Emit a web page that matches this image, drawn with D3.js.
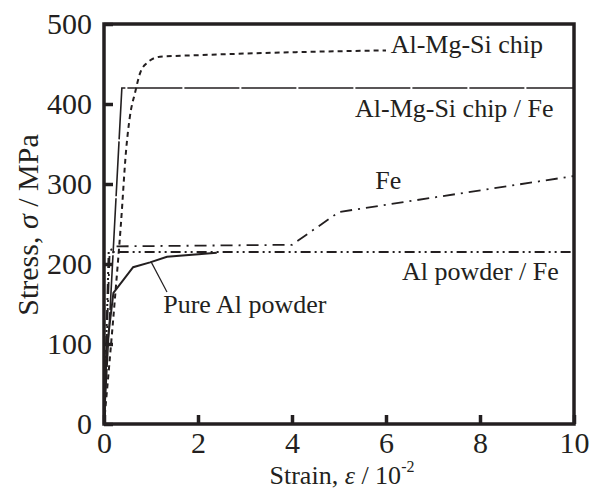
<!DOCTYPE html>
<html><head><meta charset="utf-8">
<script src="https://cdn.jsdelivr.net/npm/d3@7"></script>
</head><body style="margin:0">
<script>
// ---- data ----
const xTicks = [0, 2, 4, 6, 8, 10];
const yTicks = [0, 100, 200, 300, 400, 500];

const chipStrain = [0, 0.23, 0.36, 0.47, 0.55, 0.66, 0.77, 0.91, 1.19, 2.0, 4.2, 6.0];
const chipStress = [0, 155, 250, 342, 384, 414, 439, 451, 459, 461, 465, 467];

const chipFeStrain = [0, 0.38, 10];
const chipFeStress = [0, 420, 420];

const feStrain = [0, 0.12, 0.2, 4.0, 5.0, 10];
const feStress = [0, 215, 222, 224, 265, 310];

const powderFeStrain = [0, 0.1, 10];
const powderFeStress = [0, 215, 215];

const pureAlStrain = [0, 0.05, 0.2, 0.62, 0.98, 1.34, 2.4];
const pureAlStress = [0, 90, 164, 196, 202, 209, 214];

const labels = ["Al-Mg-Si chip", "Al-Mg-Si chip / Fe", "Fe", "Al powder / Fe", "Pure Al powder"];

// ---- drawing ----
const W = 599, H = 490;
const ink = "#231f20";
const FONT = '"Times New Roman"';
const svg = d3.select("body").append("svg").attr("width", W).attr("height", H);

const x = d3.scaleLinear().domain([0, 10]).range([104, 574]);
const y = d3.scaleLinear().domain([0, 500]).range([424, 24]);

const zip = (a, b) => a.map((v, i) => [v, b[i]]);
const line = d3.line().x(d => x(d[0])).y(d => y(d[1]));
const smooth = d3.line().x(d => x(d[0])).y(d => y(d[1])).curve(d3.curveMonotoneX);

const series = [
  {pts: zip(chipStrain, chipStress), gen: smooth, dash: "5,4", w: 2},
  {pts: zip(chipFeStrain, chipFeStress), gen: line, dash: "55,2", w: 1.6},
  {pts: zip(feStrain, feStress), gen: line, dash: "12,6,2,6", w: 1.8},
  {pts: zip(powderFeStrain, powderFeStress), gen: line, dash: "10,4,2,4,2,4", w: 2},
  {pts: zip(pureAlStrain, pureAlStress), gen: line, dash: null, w: 2}
];
series.forEach(s => {
  svg.append("path").attr("d", s.gen(s.pts)).attr("fill", "none")
    .attr("stroke", ink).attr("stroke-width", s.w)
    .attr("stroke-dasharray", s.dash);
});

// leader line for Pure Al powder
svg.append("line")
  .attr("x1", x(1.0)).attr("y1", y(203)).attr("x2", x(1.34)).attr("y2", y(165))
  .attr("stroke", ink).attr("stroke-width", 1.2);

// series labels
const labelPos = [[6.1, 464], [5.34, 384], [5.77, 294], [6.34, 180], [1.26, 139]];
labels.forEach((t, i) => {
  svg.append("text").attr("x", x(labelPos[i][0])).attr("y", y(labelPos[i][1]))
    .style("font-family", FONT).style("font-size", "26px").style("fill", ink).text(t);
});

// axes
const xa = svg.append("g").attr("transform", `translate(0,${y(0)})`)
  .call(d3.axisBottom(x).tickValues(xTicks).tickSizeInner(-9).tickSizeOuter(0).tickPadding(8));
const ya = svg.append("g").attr("transform", `translate(${x(0)},0)`)
  .call(d3.axisLeft(y).tickValues(yTicks).tickSizeInner(-9).tickSizeOuter(0).tickPadding(12));
[xa, ya].forEach(g => {
  g.attr("font-family", null).attr("font-size", null);
  g.select(".domain").remove();
  g.selectAll(".tick line").attr("stroke", ink).attr("stroke-width", 3.5);
  g.selectAll(".tick text").style("font-family", FONT).style("font-size", "30px").style("fill", ink);
});

// frame
svg.append("rect").attr("x", x(0)).attr("y", y(500))
  .attr("width", x(10) - x(0)).attr("height", y(0) - y(500))
  .attr("fill", "none").attr("stroke", ink).attr("stroke-width", 3.5);

// axis titles
const xt = svg.append("text").attr("x", (x(0) + x(10)) / 2 + 3).attr("y", 484)
  .attr("text-anchor", "middle").style("font-family", FONT).style("font-size", "26px").style("fill", ink);
xt.append("tspan").text("Strain, ");
xt.append("tspan").style("font-style", "italic").text("ε");
xt.append("tspan").text(" / 10");
xt.append("tspan").style("font-size", "16px").attr("dy", -12).text("-2");

const yt = svg.append("text").attr("transform", `translate(38,225) rotate(-90)`)
  .attr("text-anchor", "middle").style("font-family", FONT).style("font-size", "30px").style("fill", ink);
yt.append("tspan").text("Stress, ");
yt.append("tspan").style("font-style", "italic").text("σ");
yt.append("tspan").text(" / MPa");
</script>
</body></html>
